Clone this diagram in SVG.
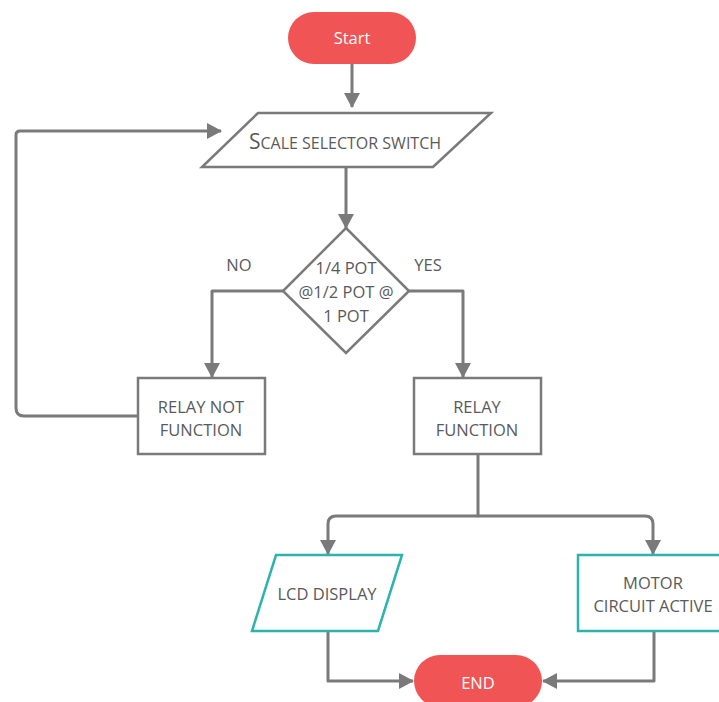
<svg xmlns="http://www.w3.org/2000/svg" width="719" height="702" viewBox="0 0 719 702">
<defs>
<marker id="ah" markerUnits="userSpaceOnUse" markerWidth="16" markerHeight="16" viewBox="0 0 16 16" refX="14" refY="8" orient="auto">
<path d="M0,0 L15,8 L0,16 Z" fill="#7a7a7a"/>
</marker>
<style>
.t{font-family:"Open Sans","Noto Sans",sans-serif;font-size:16.5px;fill:#5a5a5a;text-anchor:middle}
.w{font-family:"Open Sans","Noto Sans",sans-serif;font-size:16.5px;fill:#ffffff;text-anchor:middle}
.g{fill:#ffffff;stroke:#7a7a7a;stroke-width:2.5}
.c{fill:#ffffff;stroke:#2bb3b0;stroke-width:2.5}
.r{fill:#f05454;stroke:none}
.e{fill:none;stroke:#7a7a7a;stroke-width:3;stroke-linejoin:round}
</style>
</defs>
<rect width="719" height="702" fill="#ffffff"/>
<g id="connectors">
<path class="e" d="M352,64 V107" marker-end="url(#ah)"/>
<path class="e" d="M346,167 V228" marker-end="url(#ah)"/>
<path class="e" d="M283,291 H212 V377" marker-end="url(#ah)"/>
<path class="e" d="M409,291 H463 V377" marker-end="url(#ah)"/>
<path class="e" d="M138,416 H24 Q16,416 16,408 V135 Q16,131 20,131 H221" marker-end="url(#ah)"/>
<path class="e" d="M478,454 V516 H336 Q328,516 328,524 V554" marker-end="url(#ah)"/>
<path class="e" d="M478,516 H645 Q653,516 653,524 V554" marker-end="url(#ah)"/>
<path class="e" d="M328,631 V681 H413" marker-end="url(#ah)"/>
<path class="e" d="M654,631 V681 H543" marker-end="url(#ah)"/>
<text class="t" x="239" y="271">NO</text>
<text class="t" x="428" y="271">YES</text>
</g>
<g id="start">
<rect class="r" x="288" y="12" width="128" height="52" rx="26"/>
<text class="w" x="352" y="44">Start</text>
</g>
<g id="scale">
<polygon class="g" points="258,113 491,113 433,167 202,167"/>
<text class="t" x="345" y="149" style="font-size:16px"><tspan style="font-size:21px">S</tspan>CALE SELECTOR SWITCH</text>
</g>
<g id="decision">
<polygon class="g" points="346,228 409,291 346,353 283,291"/>
<text class="t" x="346" y="274">1/4 POT</text>
<text class="t" x="346" y="298">@1/2 POT @</text>
<text class="t" x="346" y="322">1 POT</text>
</g>
<g id="relaynot">
<rect class="g" x="138" y="378" width="127" height="76"/>
<text class="t" x="201" y="413">RELAY NOT</text>
<text class="t" x="201" y="436">FUNCTION</text>
</g>
<g id="relay">
<rect class="g" x="414" y="378" width="127" height="76"/>
<text class="t" x="477" y="413">RELAY</text>
<text class="t" x="477" y="436">FUNCTION</text>
</g>
<g id="lcd">
<polygon class="c" points="276,555 402,555 378,631 252,631"/>
<text class="t" x="327" y="600">LCD DISPLAY</text>
</g>
<g id="motor">
<rect class="c" x="578" y="555" width="152" height="76"/>
<text class="t" x="653" y="589">MOTOR</text>
<text class="t" x="653" y="612">CIRCUIT ACTIVE</text>
</g>
<g id="end">
<rect class="r" x="414" y="655" width="128" height="52" rx="26"/>
<text class="w" x="478" y="689">END</text>
</g>
</svg>
